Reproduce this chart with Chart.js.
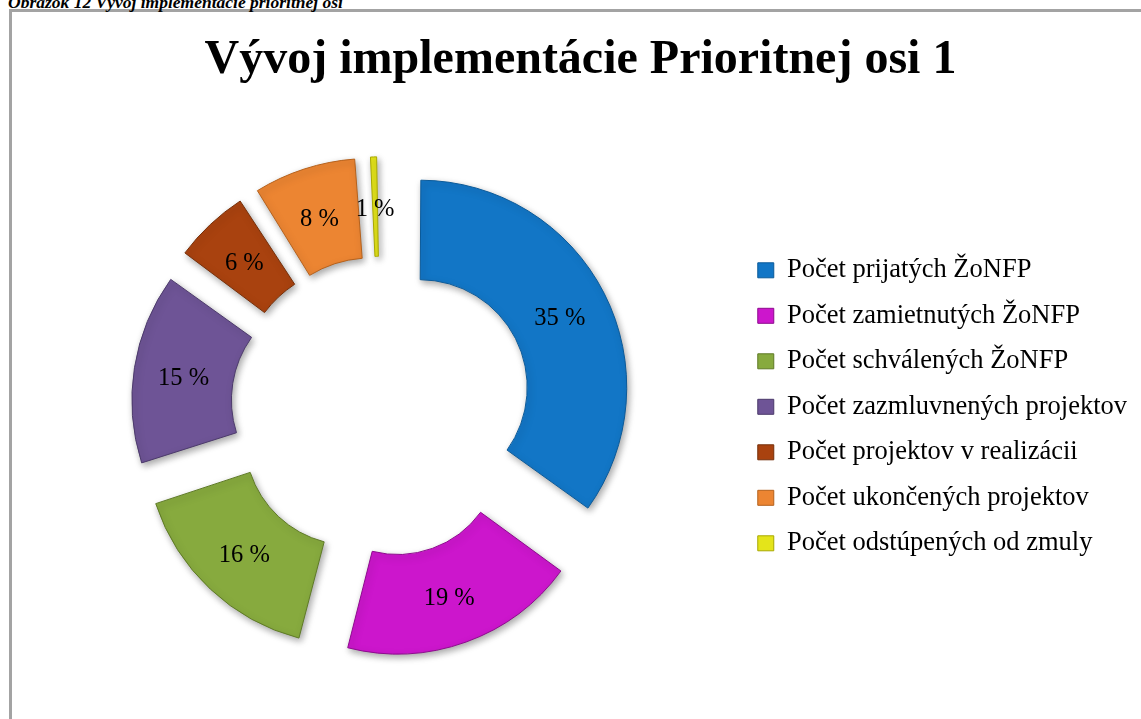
<!DOCTYPE html>
<html>
<head>
<meta charset="utf-8">
<script src="https://cdn.jsdelivr.net/npm/chart.js@4.4.1/dist/chart.umd.min.js"></script>
<style>
  html, body { margin: 0; padding: 0; background: #ffffff; overflow: hidden; width: 1141px; height: 719px; }
  #frame { position: absolute; left: 9px; top: 9px; width: 1160px; height: 740px; border: 3px solid #a3a3a3; box-sizing: border-box; }
  #caption { position: absolute; left: 8px; top: -6px; font: bold italic 17.5px "Liberation Serif", "Times New Roman", serif; line-height: 1; white-space: nowrap; color: #000; }
  #wrap { position: absolute; left: 0; top: 0; width: 1164px; height: 719px; }
</style>
</head>
<body>
<div id="frame"></div>
<div id="caption">Obrázok 12 Vývoj implementácie prioritnej osi</div>
<div id="wrap"><canvas id="c" width="1164" height="719"></canvas></div>
<script>
// ---- data ----
const chartTitle = "Vývoj implementácie Prioritnej osi 1";
const categories = [
  "Počet prijatých ŽoNFP",
  "Počet zamietnutých ŽoNFP",
  "Počet schválených ŽoNFP",
  "Počet zazmluvnených projektov",
  "Počet projektov v realizácii",
  "Počet ukončených projektov",
  "Počet odstúpených od zmuly"
];
const shares = [35, 19, 16, 15, 6, 8, 1];
const valueLabels = ["35 %", "19 %", "16 %", "15 %", "6 %", "8 %", "1 %"];

// ---- styles ----
const fillColors   = ["#1276C6", "#CC16CC", "#87AA3E", "#6E5496", "#A9420F", "#EC8532", "#E4E41A"];
const borderColors = ["#0B5A99", "#8E0A8E", "#5E7A26", "#4C3A6B", "#76300A", "#B5611C", "#A8A800"];
const explode = 51; // visual outward shift of each slice, px

function sliceOffset(ctx) {
  const data = ctx.dataset.data;
  const total = data.reduce((a, b) => a + b, 0);
  const circ = (data[ctx.dataIndex] / total) * Math.PI * 2;
  const fix = 1 - Math.sin(Math.min(Math.PI, circ));
  return 4 * explode / (1 + fix);
}

const shadowPlugin = {
  id: 'sliceShadow',
  beforeDatasetsDraw(chart) {
    const ctx = chart.ctx;
    ctx.save();
    ctx.shadowColor = 'rgba(0,0,0,0.35)';
    ctx.shadowBlur = 7;
    ctx.shadowOffsetX = 2;
    ctx.shadowOffsetY = 3;
  },
  afterDatasetsDraw(chart) {
    chart.ctx.restore();
  }
};

const labelPlugin = {
  id: 'sliceLabels',
  afterDatasetsDraw(chart) {
    const ctx = chart.ctx;
    const meta = chart.getDatasetMeta(0);
    ctx.save();
    ctx.font = '24.5px "Liberation Serif", "Times New Roman", serif';
    ctx.fillStyle = '#000';
    ctx.textAlign = 'center';
    ctx.textBaseline = 'middle';
    meta.data.forEach((el, i) => {
      const p = el.getProps(['x', 'y', 'startAngle', 'endAngle', 'innerRadius', 'outerRadius', 'circumference'], true);
      const t = (el.options.offset || 0) / 4;
      const fix = 1 - Math.sin(Math.min(Math.PI, p.circumference));
      const mid = (p.startAngle + p.endAngle) / 2;
      const r = (p.innerRadius + p.outerRadius) / 2 + t + t * fix;
      ctx.fillText(valueLabels[i], p.x + Math.cos(mid) * r, p.y + Math.sin(mid) * r + 3);
    });
    ctx.restore();
  }
};

new Chart(document.getElementById('c'), {
  type: 'doughnut',
  data: {
    labels: categories,
    datasets: [{
      data: shares,
      backgroundColor: fillColors,
      borderColor: borderColors,
      borderWidth: 1,
      offset: sliceOffset,
      hoverOffset: 0,
      clip: false
    }]
  },
  options: {
    responsive: false,
    animation: false,
    events: [],
    radius: 199,
    cutout: '50%',
    layout: { padding: { left: 24, right: 27, top: 0, bottom: 15 } },
    plugins: {
      tooltip: { enabled: false },
      title: {
        display: true,
        text: chartTitle,
        color: '#000',
        font: { family: '"Liberation Serif", "Times New Roman", serif', size: 48, weight: 'bold', lineHeight: 1.2 },
        padding: { top: 32, bottom: 20 }
      },
      legend: {
        display: true,
        position: 'right',
        align: 'center',
        fullSize: false,
        labels: {
          color: '#000',
          font: { family: '"Liberation Serif", "Times New Roman", serif', size: 26.5, lineHeight: 1.2 },
          boxWidth: 16,
          boxHeight: 15,
          padding: 19
        }
      }
    }
  },
  plugins: [shadowPlugin, labelPlugin]
});
</script>
</body>
</html>
